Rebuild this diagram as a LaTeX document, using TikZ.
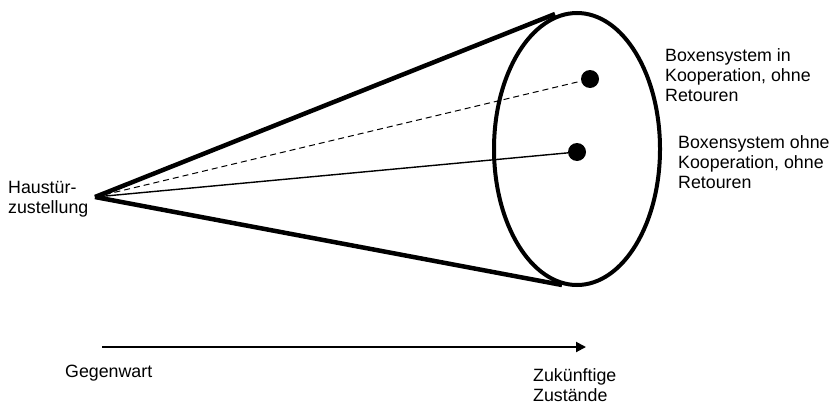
\documentclass[tikz,border=0pt]{standalone}
\usepackage{fontspec}
\setmainfont{Liberation Sans}
\usetikzlibrary{shapes.geometric,arrows.meta,positioning}

\begin{document}
\begin{tikzpicture}[
  x=1pt, y=-1pt,
  lbl/.style={anchor=west, align=left, inner sep=0pt, font=\fontsize{17.8}{20}\selectfont},
  dot/.style={circle, fill=black, inner sep=0pt, minimum size=18pt},
  cone/.style={line width=4.5pt},
  rim/.style={draw, ellipse, line width=4pt, minimum width=166pt, minimum height=272pt, inner sep=0pt}
]
\useasboundingbox (0,0) rectangle (834,404);

% cone
\coordinate (apex) at (95,197);
\coordinate (top) at (555,14);
\coordinate (bot) at (562,285);
\node[rim] (rim) at (577,149) {};
\draw[cone] (apex) -- (top);
\draw[cone] (apex) -- (bot);

% future states
\node[dot] (coop) at (590,79) {};
\node[dot] (solo) at (577,152) {};
\draw[dashed, dash pattern=on 6pt off 4pt, line width=1pt] (apex) -- (coop);
\draw[line width=1.4pt] (apex) -- (solo);

\node[lbl] (home) at (8,199) {Haustür-\\zustellung};
\node[lbl] (coopl) at (665,75) {Boxensystem in\\Kooperation, ohne\\Retouren};
\node[lbl] (solol) at (678,162) {Boxensystem ohne\\Kooperation, ohne\\Retouren};

% time axis
\coordinate (now) at (102,347);
\coordinate (later) at (586,347);
\draw[-{Triangle[length=10pt,width=10pt]}, line width=2pt] (now) -- (later);
\node[lbl] (gegen) at (65,373) {Gegenwart};
\node[lbl] (zuk) at (533,385) {Zukünftige\\Zustände};
\end{tikzpicture}
\end{document}
